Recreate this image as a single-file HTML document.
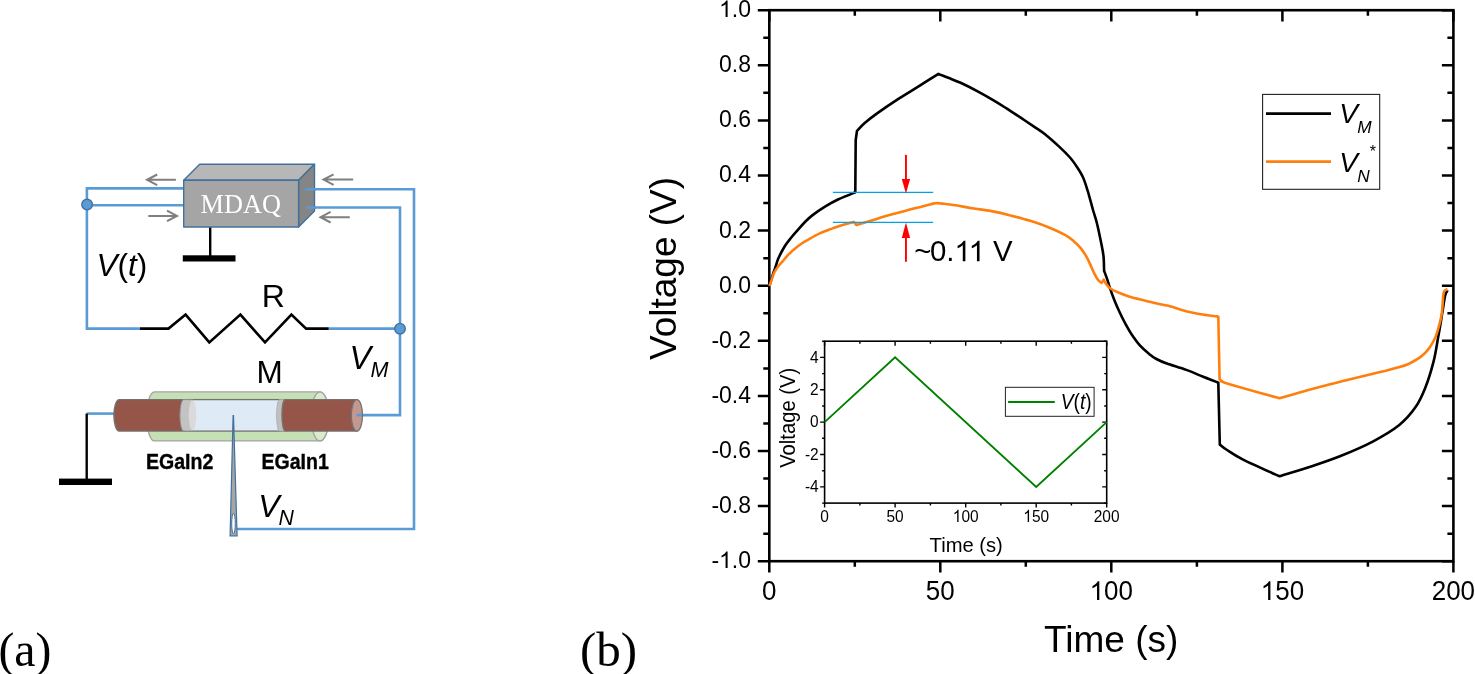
<!DOCTYPE html>
<html><head><meta charset="utf-8"><title>Figure</title>
<style>
html,body{margin:0;padding:0;background:#fff;width:1475px;height:674px;overflow:hidden}
svg{display:block;will-change:transform;font-family:"Liberation Sans",sans-serif}
.serif{font-family:"Liberation Serif",serif}
</style></head>
<body>
<svg width="1475" height="674" viewBox="0 0 1475 674">
<!-- ========== (a) circuit ========== -->
<g id="circuit">
  <!-- wires -->
  <g fill="none" stroke="#5b9bd5" stroke-width="2.6" stroke-linejoin="miter">
    <path d="M184,188.4 H86.9 V328.6 H140"/>
    <path d="M184,205.3 H86.9"/>
    <path d="M305.2,189.3 H414 V529 H237"/>
    <path d="M306.3,207.5 H400 V415.1 H356.5"/>
    <path d="M328.7,328.6 H400"/>
    <path d="M114.5,413.6 H86.7"/>
  </g>
  <!-- node dots -->
  <circle cx="87.1" cy="204.6" r="5.3" fill="#5b9bd5" stroke="#41719c" stroke-width="1.4"/>
  <circle cx="400" cy="328.7" r="5.3" fill="#5b9bd5" stroke="#41719c" stroke-width="1.4"/>
  <!-- resistor -->
  <path d="M140,328.6 H168.5 L185.6,314.6 L209.3,342.4 L240.4,314.6 L265,342.4 L291.4,314.6 L306.1,328.6 H328.7" fill="none" stroke="#000" stroke-width="2.6" stroke-linejoin="miter"/>
  <!-- ground (left) -->
  <path d="M86.7,413.6 V479" fill="none" stroke="#000" stroke-width="2.4"/>
  <rect x="59" y="478.6" width="53" height="6.4" fill="#000"/>
  <!-- ground (MDAQ) -->
  <path d="M210.2,227 V256" fill="none" stroke="#000" stroke-width="2.4"/>
  <rect x="182.8" y="255.3" width="52.7" height="6.2" fill="#000"/>
  <!-- MDAQ box -->
  <g stroke="#41719c" stroke-width="1.4" stroke-linejoin="round">
    <polygon points="183.7,180.2 199.7,164.2 314.5,164.2 298.6,180.2" fill="#b7b7b7"/>
    <polygon points="298.6,180.2 314.5,164.2 314.5,211 298.6,227" fill="#858585"/>
    <rect x="183.7" y="180.2" width="114.9" height="46.8" fill="#a5a5a5"/>
  </g>
  <text x="240.7" y="212.7" class="serif" font-size="26.3" fill="#fff" text-anchor="middle">MDAQ</text>
  <!-- blue wire stubs over the side face -->
  <g stroke="#5b9bd5" stroke-width="2.4">
    <path d="M305.2,189.3 H316"/>
    <path d="M306.3,207.5 H316"/>
  </g>
  <!-- gray arrows -->
  <g fill="none" stroke="#7f7f7f" stroke-width="2" stroke-linecap="butt" stroke-linejoin="miter">
    <path d="M175.9,179.8 H147.5 M157.2,174.5 L147,179.8 L157.2,185.1"/>
    <path d="M148.3,215.9 H176 M167,210.6 L177,215.9 L167,221.2"/>
    <path d="M353.2,179.6 H324.5 M333.6,174.3 L323.5,179.6 L333.6,184.9"/>
    <path d="M349.8,217.2 H321.5 M330.6,211.9 L320.5,217.2 L330.6,222.5"/>
  </g>
  <!-- labels -->
  <text x="96.5" y="275.9" font-size="31.5" font-style="italic">V<tspan font-style="normal">(</tspan>t<tspan font-style="normal">)</tspan></text>
  <text x="273.4" y="306.8" font-size="32" text-anchor="middle">R</text>
  <text x="269.5" y="382.7" font-size="31.5" text-anchor="middle">M</text>
  <text x="349.4" y="368.6" font-size="32.4" font-style="italic">V</text>
  <text x="370.6" y="376.5" font-size="21.6" font-style="italic">M</text>
  <text x="258.3" y="517" font-size="32" font-style="italic">V</text>
  <text x="278.6" y="524.9" font-size="21.3" font-style="italic">N</text>

  <!-- tube: green outer -->
  <g stroke="#a3a3a3" stroke-width="1.3">
    <path d="M154.4,391.9 H320 A8.9,24.5 0 0 1 320,440.9 H154.4 A7.7,24.5 0 0 1 154.4,391.9 Z" fill="#c5e0b4"/>
    <ellipse cx="320" cy="416.4" rx="8.9" ry="24.5" fill="#dbeacd"/>
  </g>
  <!-- middle light blue -->
  <rect x="188" y="399.6" width="96" height="31.5" fill="#deebf7" stroke="#767171" stroke-width="1.3"/>
  <!-- left brown cylinder -->
  <path d="M119.3,399.6 H186 V431.1 H119.3 A5.4,15.75 0 0 1 119.3,399.6 Z" fill="#955549" stroke="#767171" stroke-width="1.4"/>
  <!-- left gray disc -->
  <path d="M183.6,399.6 H192.5 V431.1 H183.6 A3.7,15.75 0 0 1 183.6,399.6 Z" fill="#c3c3c3" stroke="#8c8c8c" stroke-width="1"/>
  <ellipse cx="192.5" cy="415.35" rx="3.8" ry="15.2" fill="#dadada"/>
  <!-- right gray disc -->
  <path d="M279.4,399.6 H288 V431.1 H279.4 A2.8,15.75 0 0 1 279.4,399.6 Z" fill="#c0c0c0" stroke="#a8a8a8" stroke-width="0.8"/>
  <!-- right brown cylinder -->
  <path d="M285.4,399.6 H356.9 V431.1 H285.4 A3.4,15.75 0 0 1 285.4,399.6 Z" fill="#955549" stroke="#767171" stroke-width="1.4"/>
  <ellipse cx="356.9" cy="415.35" rx="5.6" ry="15.75" fill="#c3998f" stroke="#767171" stroke-width="1.3"/>
  <path d="M356.5,415.1 H362" stroke="#5b9bd5" stroke-width="2.6"/>
  <!-- probe -->
  <path d="M233.1,415.6 L233.5,415.6 L237.1,535.8 L230.1,535.8 Z" fill="#a6a6a6" stroke="#41719c" stroke-width="1.2" stroke-linejoin="miter"/>
  <ellipse cx="233.5" cy="523.6" rx="1.8" ry="10.3" fill="#fff" stroke="#41719c" stroke-width="1"/>
  <!-- EGaIn labels -->
  <text transform="translate(146,468.5) scale(0.94,1.06)" font-size="20.8" font-weight="bold" stroke="#000" stroke-width="0.35">EGaIn2</text>
  <text transform="translate(261.5,468.5) scale(0.94,1.06)" font-size="20.8" font-weight="bold" stroke="#000" stroke-width="0.35">EGaIn1</text>
</g>
<text transform="translate(-1.6,665.6) scale(0.975,1)" class="serif" font-size="49">(a)</text>
<text x="580" y="665.6" class="serif" font-size="49">(b)</text>

<!-- ========== (b) chart ========== -->
<g id="chart">
  <rect x="769.3" y="10.2" width="684.1" height="551" fill="none" stroke="#000" stroke-width="2.6"/>
  <path d="M769.3,561.2 H757.8 M1453.4,561.2 H1441.9 M769.3,533.7 H763.3 M1453.4,533.7 H1447.4 M769.3,506.1 H757.8 M1453.4,506.1 H1441.9 M769.3,478.6 H763.3 M1453.4,478.6 H1447.4 M769.3,451 H757.8 M1453.4,451 H1441.9 M769.3,423.5 H763.3 M1453.4,423.5 H1447.4 M769.3,395.9 H757.8 M1453.4,395.9 H1441.9 M769.3,368.4 H763.3 M1453.4,368.4 H1447.4 M769.3,340.8 H757.8 M1453.4,340.8 H1441.9 M769.3,313.3 H763.3 M1453.4,313.3 H1447.4 M769.3,285.7 H757.8 M1453.4,285.7 H1441.9 M769.3,258.2 H763.3 M1453.4,258.2 H1447.4 M769.3,230.6 H757.8 M1453.4,230.6 H1441.9 M769.3,203.1 H763.3 M1453.4,203.1 H1447.4 M769.3,175.5 H757.8 M1453.4,175.5 H1441.9 M769.3,148 H763.3 M1453.4,148 H1447.4 M769.3,120.4 H757.8 M1453.4,120.4 H1441.9 M769.3,92.8 H763.3 M1453.4,92.8 H1447.4 M769.3,65.3 H757.8 M1453.4,65.3 H1441.9 M769.3,37.8 H763.3 M1453.4,37.8 H1447.4 M769.3,10.2 H757.8 M1453.4,10.2 H1441.9 M769.3,561.2 V572.5 M769.3,10.2 V21.5 M854.8,561.2 V566.7 M854.8,10.2 V15.7 M940.3,561.2 V572.5 M940.3,10.2 V21.5 M1025.8,561.2 V566.7 M1025.8,10.2 V15.7 M1111.3,561.2 V572.5 M1111.3,10.2 V21.5 M1196.9,561.2 V566.7 M1196.9,10.2 V15.7 M1282.4,561.2 V572.5 M1282.4,10.2 V21.5 M1367.9,561.2 V566.7 M1367.9,10.2 V15.7 M1453.4,561.2 V572.5 M1453.4,10.2 V21.5" fill="none" stroke="#000" stroke-width="2.5"/>
  <g font-size="23" text-anchor="end"><g transform="translate(751,568.1) scale(1,1.035)"><text x="-39.6" y="0" font-size="23" text-anchor="start" xml:space="preserve">-</text><path transform="translate(-31.97,0) scale(0.01123,0.01089)" d="M763,0 L583,0 L583,-1147 Q518,-1085 412,-1023 Q306,-961 222,-930 L222,-1104 Q373,-1175 486,-1276 Q599,-1377 646,-1472 L763,-1472 Z"/><text x="-19.2" y="0" font-size="23" text-anchor="start" xml:space="preserve">.0</text></g><g transform="translate(751,513) scale(1,1.035)"><text x="-39.6" y="0" font-size="23" text-anchor="start" xml:space="preserve">-0.8</text></g><g transform="translate(751,457.9) scale(1,1.035)"><text x="-39.6" y="0" font-size="23" text-anchor="start" xml:space="preserve">-0.6</text></g><g transform="translate(751,402.8) scale(1,1.035)"><text x="-39.6" y="0" font-size="23" text-anchor="start" xml:space="preserve">-0.4</text></g><g transform="translate(751,347.7) scale(1,1.035)"><text x="-39.6" y="0" font-size="23" text-anchor="start" xml:space="preserve">-0.2</text></g><g transform="translate(751,292.6) scale(1,1.035)"><text x="-32" y="0" font-size="23" text-anchor="start" xml:space="preserve">0.0</text></g><g transform="translate(751,237.5) scale(1,1.035)"><text x="-32" y="0" font-size="23" text-anchor="start" xml:space="preserve">0.2</text></g><g transform="translate(751,182.4) scale(1,1.035)"><text x="-32" y="0" font-size="23" text-anchor="start" xml:space="preserve">0.4</text></g><g transform="translate(751,127.3) scale(1,1.035)"><text x="-32" y="0" font-size="23" text-anchor="start" xml:space="preserve">0.6</text></g><g transform="translate(751,72.2) scale(1,1.035)"><text x="-32" y="0" font-size="23" text-anchor="start" xml:space="preserve">0.8</text></g><g transform="translate(751,17.1) scale(1,1.035)"><path transform="translate(-31.97,0) scale(0.01123,0.01089)" d="M763,0 L583,0 L583,-1147 Q518,-1085 412,-1023 Q306,-961 222,-930 L222,-1104 Q373,-1175 486,-1276 Q599,-1377 646,-1472 L763,-1472 Z"/><text x="-19.2" y="0" font-size="23" text-anchor="start" xml:space="preserve">.0</text></g></g>
  <g font-size="26" text-anchor="middle"><g transform="translate(769.3,600) scale(1,1.035)"><text x="-7.2" y="0" font-size="26" text-anchor="start" xml:space="preserve">0</text></g><g transform="translate(940.3,600) scale(1,1.035)"><text x="-14.5" y="0" font-size="26" text-anchor="start" xml:space="preserve">50</text></g><g transform="translate(1111.3,600) scale(1,1.035)"><path transform="translate(-21.68,0) scale(0.01270,0.01231)" d="M763,0 L583,0 L583,-1147 Q518,-1085 412,-1023 Q306,-961 222,-930 L222,-1104 Q373,-1175 486,-1276 Q599,-1377 646,-1472 L763,-1472 Z"/><text x="-7.2" y="0" font-size="26" text-anchor="start" xml:space="preserve">00</text></g><g transform="translate(1282.4,600) scale(1,1.035)"><path transform="translate(-21.68,0) scale(0.01270,0.01231)" d="M763,0 L583,0 L583,-1147 Q518,-1085 412,-1023 Q306,-961 222,-930 L222,-1104 Q373,-1175 486,-1276 Q599,-1377 646,-1472 L763,-1472 Z"/><text x="-7.2" y="0" font-size="26" text-anchor="start" xml:space="preserve">50</text></g><g transform="translate(1453.4,600) scale(1,1.035)"><text x="-21.7" y="0" font-size="26" text-anchor="start" xml:space="preserve">200</text></g></g>
  <text transform="translate(675.5,268.4) rotate(-90)" font-size="37" text-anchor="middle">Voltage (V)</text>
  <text x="1111.2" y="652.1" font-size="37" text-anchor="middle">Time (s)</text>

  <!-- curves -->
  <path d="M769.4,285.7 C769.7,284.9 770.4,282.7 771,280.6 C771.6,278.6 772.4,275.8 773.2,273.4 C774,271 774.9,269 775.7,266.5 C776.6,264 776.8,261.8 778.3,258.5 C779.8,255.2 782.4,250.1 784.6,246.5 C786.8,242.9 789.5,239.8 791.7,237 C793.9,234.2 795.7,232.3 797.9,229.8 C800.1,227.3 802.6,224.4 805,222 C807.4,219.6 808.9,218 812.3,215.4 C815.7,212.8 821,209.1 825.4,206.4 C829.8,203.7 833.6,201.6 838.5,199.3 C843.4,197 852.1,193.6 854.8,192.5 L855.3,192.3 L855.7,140.2 L857,130.8 C858.3,129.5 861.6,125.7 865,122.8 C868.4,119.9 871.5,117.4 877.1,113.4 C882.7,109.4 891.3,103.5 898.4,98.9 C905.5,94.3 913.1,89.8 919.8,85.6 C926.5,81.4 935.4,75.9 938.5,73.9 C940.1,74.6 944.6,76.3 948.3,77.8 C952,79.3 955.4,80.4 960.6,82.8 C965.8,85.2 973.9,89.3 979.5,92.3 C985.1,95.3 989.4,97.8 994,100.6 C998.6,103.4 1002.7,105.9 1007.3,108.9 C1011.9,111.9 1017.2,115.3 1021.8,118.4 C1026.4,121.5 1031.2,124.7 1035.1,127.3 C1039,129.9 1040.9,130.9 1045,134.2 C1049.1,137.5 1055.5,143.2 1059.7,147.1 C1063.9,151 1067,154.1 1070,157.5 C1073,160.9 1075.3,164.4 1077.5,167.8 C1079.7,171.2 1081.7,174.3 1083.4,178.2 C1085.1,182.1 1086.7,187.7 1087.8,191.2 C1088.9,194.7 1089.2,196.3 1090.1,199.4 C1091,202.5 1091.9,206.1 1093,210 C1094.1,213.9 1095.4,217 1096.8,222.7 C1098.2,228.4 1100.3,238.5 1101.4,244.1 C1102.5,249.7 1103,251.7 1103.5,256.1 C1104,260.6 1104,268.4 1104.1,270.8 C1104.7,272.4 1106.5,277.1 1107.5,280.2 C1108.5,283.3 1109.2,285.8 1110.4,289.3 C1111.6,292.8 1113.3,297.5 1114.8,301.2 C1116.3,304.9 1117.6,307.8 1119.3,311.5 C1121,315.2 1123.2,319.7 1125.2,323.4 C1127.2,327.1 1128.7,330.1 1131.2,333.8 C1133.7,337.5 1137.1,342.4 1140.1,345.7 C1143.1,349 1146.3,351.6 1149,353.8 C1151.7,356 1153.4,357.4 1156.4,359 C1159.4,360.6 1161.8,361.7 1166.8,363.5 C1171.8,365.3 1180.3,367.7 1186.3,369.9 C1192.3,372.1 1197.4,374.4 1202.6,376.5 C1207.8,378.6 1214.8,381.2 1217.3,382.2 L1218.3,382.6 L1219.8,444.6 C1220.9,445.4 1222.5,447.1 1226.3,449.5 C1230.1,451.9 1233.7,454.8 1242.6,459.3 C1251.5,463.8 1273.3,473.5 1279.5,476.3 C1284.2,474.8 1297.7,470.9 1307.9,467.5 C1318.1,464.1 1329.6,460.4 1340.5,456 C1351.4,451.6 1363.4,446.5 1373.2,441.3 C1383,436.1 1392.2,430.7 1399.3,425 C1406.4,419.3 1411.2,413.4 1415.6,407.1 C1419.9,400.9 1422.4,395.1 1425.4,387.5 C1428.4,379.9 1431.4,370.1 1433.6,361.4 C1435.8,352.7 1437,343.5 1438.5,335.3 C1440,327.1 1441.3,318.9 1442.4,312.4 C1443.5,305.9 1444.1,299.8 1445,296.1 C1445.9,292.4 1447.2,291.2 1447.6,290.2" fill="none" stroke="#000" stroke-width="2.6" stroke-linejoin="round"/>
  <path d="M769.4,286 C769.9,284.7 771.4,280.4 772.1,278.3 C772.9,276.2 773.3,274.6 773.9,273.2 C774.5,271.8 775,271.2 775.7,270 C776.4,268.8 777.1,267.7 778.3,266.2 C779.5,264.7 781.3,262.8 782.8,261.1 C784.3,259.4 785.7,257.4 787.2,255.8 C788.7,254.2 789.5,253.3 791.7,251.4 C793.9,249.5 797.6,246.3 800.6,244.2 C803.6,242.1 806.3,240.7 809.5,238.9 C812.7,237.1 816.8,234.8 819.7,233.4 C822.6,232 823.7,231.8 827,230.5 C830.3,229.2 834.9,227.3 839.3,225.9 C843.7,224.5 851.2,222.6 853.6,221.9 L856.5,225 C858.8,224.3 865.2,222.4 870,221 C874.8,219.6 878.1,218.3 885.1,216.3 C892.1,214.3 904.3,211.1 911.8,209.1 C919.3,207.1 926.1,205.4 930,204.4 C933.9,203.4 933.7,203.5 935,203.3 C936.3,203.1 936.8,203.1 937.8,203.1 C938.8,203.1 940.5,203.3 941,203.4 C943.1,203.7 948.2,204.2 953.5,205 C958.8,205.8 966.2,207.3 972.5,208.3 C978.8,209.3 985.1,209.9 991.4,211.1 C997.7,212.3 1004.1,213.8 1010.4,215.4 C1016.7,217 1023.1,218.6 1029.4,220.6 C1035.7,222.6 1042.5,224.9 1048.4,227.3 C1054.3,229.7 1060.7,232.6 1065,234.9 C1069.3,237.2 1071.4,239.2 1074,241.4 C1076.6,243.6 1078.7,245.6 1080.7,248.1 C1082.7,250.6 1084.5,253.4 1086.1,256.1 C1087.7,258.8 1088.8,261.2 1090.1,264.1 C1091.4,267 1092.8,270.6 1094.1,273.2 C1095.4,275.8 1096.8,278.4 1098.1,280 C1099.3,281.6 1101,282.3 1101.6,282.8 L1103.7,279.7 C1104.1,280.4 1104.8,282.1 1105.9,283.6 C1107,285.1 1108.4,287.1 1110.4,288.5 C1112.4,289.9 1114.6,290.9 1117.8,292.3 C1121,293.7 1125.2,295.4 1129.7,296.7 C1134.2,298 1139.6,299.2 1144.5,300.4 C1149.4,301.6 1155,303.1 1159.3,304.1 C1163.5,305.1 1165.5,305 1170,306.2 C1174.5,307.4 1180.9,309.8 1186.3,311.2 C1191.7,312.6 1197.4,313.6 1202.6,314.5 C1207.8,315.4 1214.8,316.1 1217.3,316.4 L1218.3,316.8 L1219.6,379.5 L1222,381 C1222.7,381.3 1216.7,380.3 1226.3,383.2 C1235.9,386.1 1270.6,395.8 1279.5,398.3 C1282.7,397.4 1291.5,394.8 1298.7,392.8 C1305.9,390.8 1314.6,388.4 1322.5,386.3 C1330.4,384.2 1338.3,382.3 1346.2,380.3 C1354.1,378.3 1363.4,376 1369.9,374.4 C1376.4,372.8 1380.5,372 1385,370.9 C1389.5,369.8 1392.9,368.9 1396.7,367.8 C1400.5,366.7 1404.4,365.7 1408,364.2 C1411.6,362.7 1415.4,360.3 1418.1,358.6 C1420.8,356.9 1422.2,355.7 1424,354 C1425.8,352.3 1427.3,350.6 1428.8,348.6 C1430.3,346.6 1431.7,344.5 1433,342 C1434.3,339.5 1435.4,337.9 1436.8,333.4 C1438.2,328.8 1440.5,321.4 1441.6,314.7 C1442.7,308 1442.8,297.5 1443.5,293.4 C1444.2,289.3 1444.8,290.9 1445.5,290.2 C1446.2,289.5 1447.2,289.4 1447.5,289.3" fill="none" stroke="#ff7f0e" stroke-width="2.6" stroke-linejoin="round"/>

  <!-- annotation -->
  <g stroke="#00a2e8" stroke-width="1.4">
    <path d="M832.8,192.4 H933.2"/>
    <path d="M832.8,222.4 H933.2"/>
  </g>
  <g fill="#ff0000" stroke="none">
    <rect x="905" y="154.9" width="1.9" height="26"/>
    <polygon points="901.8,179 910.1,179 905.95,193.6"/>
    <rect x="905" y="236" width="1.9" height="25.8"/>
    <polygon points="901.8,237.9 910.1,237.9 905.95,222.5"/>
  </g>
  <g transform="translate(914.3,261.2)"><text font-size="29.4">~</text><g transform="translate(15.6,0)"><g transform="translate(0,0)"><text x="0" y="0" font-size="29.4" text-anchor="start" xml:space="preserve">0.</text><path transform="translate(24.52,0) scale(0.01436,0.01392)" d="M763,0 L583,0 L583,-1147 Q518,-1085 412,-1023 Q306,-961 222,-930 L222,-1104 Q373,-1175 486,-1276 Q599,-1377 646,-1472 L763,-1472 Z"/><path transform="translate(38.68,0) scale(0.01436,0.01392)" d="M763,0 L583,0 L583,-1147 Q518,-1085 412,-1023 Q306,-961 222,-930 L222,-1104 Q373,-1175 486,-1276 Q599,-1377 646,-1472 L763,-1472 Z"/><text x="55" y="0" font-size="29.4" text-anchor="start" xml:space="preserve"> V</text></g></g></g>

  <!-- legend -->
  <rect x="1262.6" y="94.4" width="117.1" height="94.9" fill="#fff" stroke="#222" stroke-width="1.1"/>
  <path d="M1266,113.6 H1331" stroke="#000" stroke-width="2.6"/>
  <path d="M1266,161.6 H1331" stroke="#ff7f0e" stroke-width="2.6"/>
  <text x="1339.2" y="123.1" font-size="28" font-style="italic">V</text>
  <text x="1357.2" y="133.1" font-size="17.3" font-style="italic">M</text>
  <text x="1339.2" y="171.8" font-size="28" font-style="italic">V</text>
  <text x="1357.2" y="181.8" font-size="17.3" font-style="italic">N</text>
  <text x="1369.8" y="157.4" font-size="16">*</text>

  <!-- inset -->
  <rect x="824.6" y="341.2" width="282.1" height="161.9" fill="#fff" stroke="#000" stroke-width="1.6"/>
  <path d="M824.6,503.1 H822.1 M1106.7,503.1 H1104.2 M824.6,486.9 H820.1 M1106.7,486.9 H1102.2 M824.6,470.7 H822.1 M1106.7,470.7 H1104.2 M824.6,454.5 H820.1 M1106.7,454.5 H1102.2 M824.6,438.3 H822.1 M1106.7,438.3 H1104.2 M824.6,422.1 H820.1 M1106.7,422.1 H1102.2 M824.6,406 H822.1 M1106.7,406 H1104.2 M824.6,389.8 H820.1 M1106.7,389.8 H1102.2 M824.6,373.6 H822.1 M1106.7,373.6 H1104.2 M824.6,357.4 H820.1 M1106.7,357.4 H1102.2 M824.6,341.2 H822.1 M1106.7,341.2 H1104.2 M824.6,503.1 V507.6 M824.6,341.2 V345.7 M859.9,503.1 V505.6 M859.9,341.2 V343.7 M895.1,503.1 V507.6 M895.1,341.2 V345.7 M930.4,503.1 V505.6 M930.4,341.2 V343.7 M965.7,503.1 V507.6 M965.7,341.2 V345.7 M1000.9,503.1 V505.6 M1000.9,341.2 V343.7 M1036.2,503.1 V507.6 M1036.2,341.2 V345.7 M1071.4,503.1 V505.6 M1071.4,341.2 V343.7 M1106.7,503.1 V507.6 M1106.7,341.2 V345.7" fill="none" stroke="#000" stroke-width="1.4"/>
  <g font-size="15.8" text-anchor="end"><g transform="translate(818.6,362.6) scale(0.98,1.1)"><text x="-8.8" y="0" font-size="15.8" text-anchor="start" xml:space="preserve">4</text></g><g transform="translate(818.6,395) scale(0.98,1.1)"><text x="-8.8" y="0" font-size="15.8" text-anchor="start" xml:space="preserve">2</text></g><g transform="translate(818.6,427.3) scale(0.98,1.1)"><text x="-8.8" y="0" font-size="15.8" text-anchor="start" xml:space="preserve">0</text></g><g transform="translate(818.6,459.7) scale(0.98,1.1)"><text x="-14" y="0" font-size="15.8" text-anchor="start" xml:space="preserve">-2</text></g><g transform="translate(818.6,492.1) scale(0.98,1.1)"><text x="-14" y="0" font-size="15.8" text-anchor="start" xml:space="preserve">-4</text></g></g>
  <g font-size="15.8" text-anchor="middle"><g transform="translate(824.6,521.9) scale(0.98,1.1)"><text x="-4.4" y="0" font-size="15.8" text-anchor="start" xml:space="preserve">0</text></g><g transform="translate(895.1,521.9) scale(0.98,1.1)"><text x="-8.8" y="0" font-size="15.8" text-anchor="start" xml:space="preserve">50</text></g><g transform="translate(965.7,521.9) scale(0.98,1.1)"><path transform="translate(-13.18,0) scale(0.00771,0.00748)" d="M763,0 L583,0 L583,-1147 Q518,-1085 412,-1023 Q306,-961 222,-930 L222,-1104 Q373,-1175 486,-1276 Q599,-1377 646,-1472 L763,-1472 Z"/><text x="-4.4" y="0" font-size="15.8" text-anchor="start" xml:space="preserve">00</text></g><g transform="translate(1036.2,521.9) scale(0.98,1.1)"><path transform="translate(-13.18,0) scale(0.00771,0.00748)" d="M763,0 L583,0 L583,-1147 Q518,-1085 412,-1023 Q306,-961 222,-930 L222,-1104 Q373,-1175 486,-1276 Q599,-1377 646,-1472 L763,-1472 Z"/><text x="-4.4" y="0" font-size="15.8" text-anchor="start" xml:space="preserve">50</text></g><g transform="translate(1106.7,521.9) scale(0.98,1.1)"><text x="-13.2" y="0" font-size="15.8" text-anchor="start" xml:space="preserve">200</text></g></g>
  <text transform="translate(794.8,417.8) rotate(-90) scale(1,1.1)" font-size="20.2" text-anchor="middle">Voltage (V)</text>
  <text x="966.2" y="551.6" font-size="20.2" text-anchor="middle">Time (s)</text>
  <path d="M824.6,422.1 L895.1,357.4 L1036.2,486.9 L1106.7,422.1" fill="none" stroke="#008000" stroke-width="1.9" stroke-linejoin="miter"/>
  <rect x="1005.4" y="387.3" width="88.7" height="29" fill="#fff" stroke="#222" stroke-width="1"/>
  <path d="M1008.1,402 H1054.8" stroke="#008000" stroke-width="2"/>
  <text transform="translate(1060.8,408.8) scale(1,1.12)" font-size="19.2" font-style="italic">V<tspan font-style="normal">(</tspan>t<tspan font-style="normal">)</tspan></text>
</g>
</svg>
</body></html>
